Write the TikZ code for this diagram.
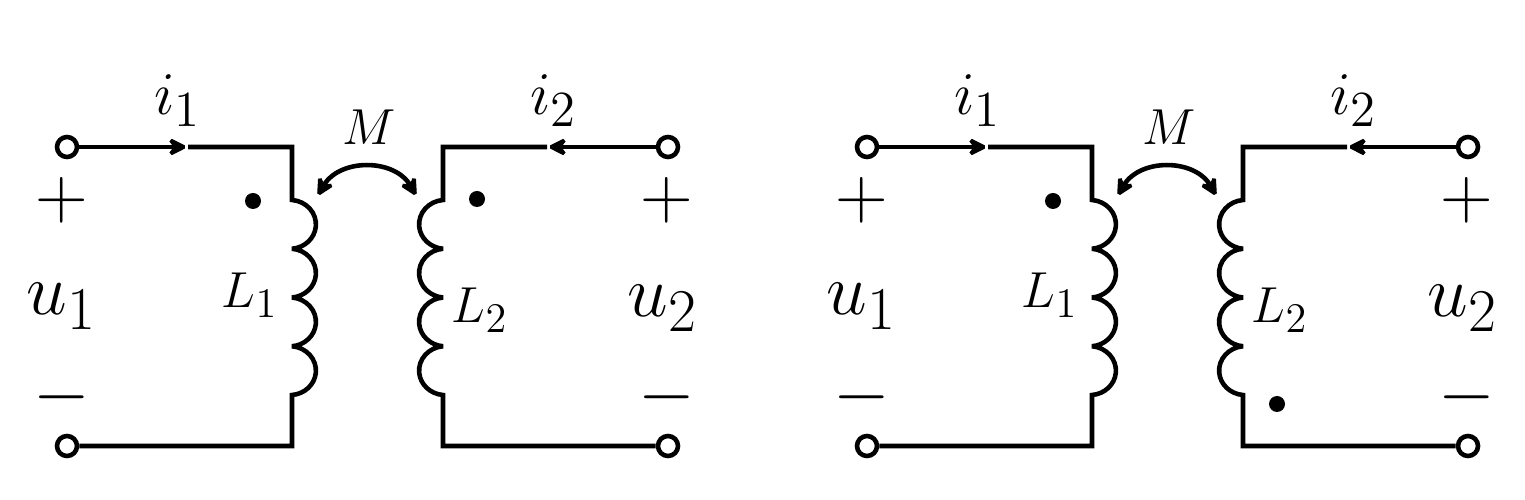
\documentclass[tikz,border=0pt]{standalone}
\usetikzlibrary{arrows.meta}
\def\defaultscriptratio{.83}
\begin{document}
\begin{tikzpicture}[>={Stealth[length=6.5pt,width=6.5pt,inset=2.4pt]},
    filo/.style={line width=1.3pt,miter limit=2},
    morsetto/.style={circle,draw,fill=white,line width=1.3pt,inner sep=0pt,minimum size=0.2cm},
    punto/.style={circle,fill,inner sep=0pt,minimum size=0.16cm},
    corrente/.style={inner sep=0pt,anchor=base,font=\fontsize{16.5}{20}\selectfont},
    etichetta/.style={inner sep=0pt,anchor=base,font=\fontsize{14}{17}\selectfont},
    grande/.style={inner sep=0pt,anchor=base,font=\fontsize{20}{24}\selectfont},
    segno/.style={inner sep=0pt,font=\fontsize{20}{24}\selectfont}]
    % --- Impostazioni ---
    \def\alto{3.53}   % quota del filo superiore
    \def\basso{0.54}  % quota del filo inferiore
    \def\rx{0.262}    % semiasse orizzontale di una spira
    \def\ry{0.2447}   % semiasse verticale di una spira
    \useasboundingbox (0,0) rectangle (15.25,5);

    % --- Due circuiti: il secondo ha il punto di L2 in basso ---
    \foreach \dx/\dy in {0/3.01, 8/0.96} {
    \begin{scope}[xshift=\dx cm]
    % Morsetti
    \node[morsetto] (ta\dx) at (0.67,\alto) {};
    \node[morsetto] (tb\dx) at (0.67,\basso) {};
    \node[morsetto] (tc\dx) at (6.68,\alto) {};
    \node[morsetto] (td\dx) at (6.68,\basso) {};
    % Punti di riferimento
    \coordinate (a\dx) at (1.88,\alto);
    \coordinate (b\dx) at (5.47,\alto);
    \coordinate (c1\dx) at (2.92,\alto);
    \coordinate (c2\dx) at (2.92,\basso);
    \coordinate (c3\dx) at (4.43,\alto);
    \coordinate (c4\dx) at (4.43,\basso);
    \coordinate (k1\dx) at (2.92,3.00);
    \coordinate (k3\dx) at (4.43,3.00);
    \coordinate (m1\dx) at (3.17,3.03);
    \coordinate (m2\dx) at (4.17,3.03);

    % Primario
    \draw[filo,->] (ta\dx) -- (a\dx);
    \draw[filo] (a\dx) -- (c1\dx) -- (k1\dx)
        arc[start angle=85,end angle=-85,x radius=\rx,y radius=\ry]
        arc[start angle=85,end angle=-85,x radius=\rx,y radius=\ry]
        arc[start angle=85,end angle=-85,x radius=\rx,y radius=\ry]
        arc[start angle=85,end angle=-85,x radius=\rx,y radius=\ry]
        -- (c2\dx) -- (tb\dx);
    % Secondario
    \draw[filo,->] (tc\dx) -- (b\dx);
    \draw[filo] (b\dx) -- (c3\dx) -- (k3\dx)
        arc[start angle=95,end angle=265,x radius=\rx,y radius=\ry]
        arc[start angle=95,end angle=265,x radius=\rx,y radius=\ry]
        arc[start angle=95,end angle=265,x radius=\rx,y radius=\ry]
        arc[start angle=95,end angle=265,x radius=\rx,y radius=\ry]
        -- (c4\dx) -- (td\dx);
    % Mutua induttanza
    \draw[filo,<->] (m1\dx) to[bend left=60,looseness=1.15] (m2\dx);

    % Punti dei morsetti omologhi
    \node[punto] (p1\dx) at (2.53,2.99) {};
    \node[punto] (p2\dx) at (4.77,\dy) {};

    % Etichette
    \node[corrente] (i1\dx) at (1.78,3.85) {$i_1$};
    \node[corrente] (i2\dx) at (5.54,3.85) {$i_2$};
    \node[etichetta] (M\dx) at (3.69,3.55) {$M$};
    \node[etichetta] (L1\dx) at (2.50,1.92) {$L_1$};
    \node[etichetta] (L2\dx) at (4.80,1.77) {$L_2$};
    \node[grande] (u1\dx) at (0.62,1.85) {$u_1$};
    \node[grande] (u2\dx) at (6.63,1.83) {$u_2$};
    \node[segno] (pa\dx) at (0.62,3.00) {$+$};
    \node[segno] (ma\dx) at (0.62,1.03) {$-$};
    \node[segno] (pb\dx) at (6.67,3.00) {$+$};
    \node[segno] (mb\dx) at (6.67,1.03) {$-$};
    \end{scope}
    }
\end{tikzpicture}
\end{document}
